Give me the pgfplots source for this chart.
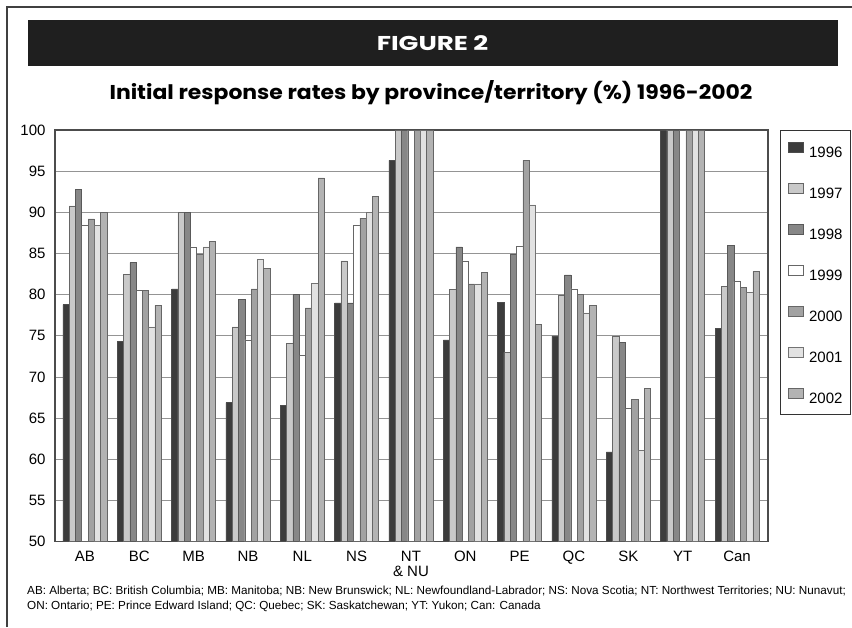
\documentclass[border=0pt]{standalone}
\usepackage{fontspec}
\setmainfont{Liberation Sans}
\newfontfamily\futura{Poppins}
\usepackage{graphicx}
\usepackage{pgfplots}
\usepackage{pgfplotstable}
\pgfplotsset{compat=1.18}
\definecolor{cA}{HTML}{3C3C3C}
\definecolor{cB}{HTML}{C9C9C9}
\definecolor{cC}{HTML}{878787}
\definecolor{cD}{HTML}{FFFFFF}
\definecolor{cE}{HTML}{A2A2A2}
\definecolor{cF}{HTML}{E2E2E2}
\definecolor{cG}{HTML}{B3B3B3}
\pgfplotstableread{
x y96 y97 y98 y99 y00 y01 y02
0 78.8 90.8 92.8 88.4 89.2 88.4 90.0
1 74.3 82.5 83.9 80.5 80.5 76.1 78.7
2 80.7 90.0 90.0 85.8 84.9 85.8 86.5
3 66.9 76.1 79.4 74.5 80.7 84.3 83.2
4 66.6 74.1 80.0 72.6 78.4 81.4 94.2
5 79.0 84.1 79.0 88.4 89.3 90.0 91.9
6 96.3 100 100 100 100 100 100
7 74.5 80.6 85.8 84.1 81.3 81.3 82.7
8 79.1 73.0 84.9 85.9 96.3 90.9 76.4
9 75.0 79.9 82.4 80.7 80.0 77.8 78.7
10 60.9 75.0 74.2 66.2 67.3 61.1 68.6
11 100 100 100 100 100 100 100
12 75.9 81.0 86.0 81.6 80.9 80.3 82.8
}\data
\begin{document}
\begin{tikzpicture}
\useasboundingbox (0,0) rectangle (852pt,-627pt);
\fill[white] (0,0) rectangle (852pt,-627pt);
\draw[line width=1.2pt, black!75] (7pt,-627pt) -- (7pt,-7pt) -- (852pt,-7pt);
\fill[black!88] (28pt,-20pt) rectangle (838pt,-66pt);
\node[text=white, font=\futura\bfseries\fontsize{20}{22}\selectfont] at (432.5pt,-43pt) {\scalebox{1.3}[1]{FIGURE 2}};
\node[font=\futura\bfseries\fontsize{20}{22}\selectfont] at (431pt,-93pt) {\scalebox{1.095}[1]{Initial response rates by province/territory (\%) 1996-2002}};
\begin{axis}[
  at={(55pt,-541.7pt)}, anchor=south west,
  scale only axis, width=713pt, height=411.7pt,
  ybar=0pt, bar width=0.1158,
  xmin=-0.55, xmax=12.57, ymin=50, ymax=100,
  ytick={50,55,...,100},
  xtick={0,...,12},
  xticklabels={AB,BC,MB,NB,NL,NS,{NT\\\& NU},ON,PE,QC,SK,YT,Can},
  /pgf/number format/assume math mode=true,
  xticklabel style={align=center, font=\fontsize{15}{15}\selectfont, yshift=-6pt},
  yticklabel style={font=\fontsize{15}{15}\selectfont, xshift=-6pt},
  major tick length=0pt,
  ymajorgrids,
  grid style={black!42, line width=0.8pt},
  axis line style={black!70, line width=1.3pt},
  legend style={at={(1.0168,1.0)}, anchor=north west, draw=black!80, line width=1pt,
    inner xsep=8pt, inner ysep=11pt, row sep=25.5pt,
    nodes={inner sep=0pt, text height=10.5pt, text depth=0pt, font=\fontsize{15}{15}\selectfont},
    /tikz/every odd column/.append style={column sep=5pt}},
  legend cell align=left,
  legend image code/.code={\draw[#1, line width=0.6pt] (0pt,0pt) rectangle (15pt,10pt);},
]
\addplot[fill=cA, draw=black!70, line width=0.5pt] table[x=x,y=y96]{\data};
\addplot[fill=cB, draw=black!60, line width=0.5pt] table[x=x,y=y97]{\data};
\addplot[fill=cC, draw=black!65, line width=0.5pt] table[x=x,y=y98]{\data};
\addplot[fill=cD, draw=black!60, line width=0.5pt] table[x=x,y=y99]{\data};
\addplot[fill=cE, draw=black!60, line width=0.5pt] table[x=x,y=y00]{\data};
\addplot[fill=cF, draw=black!55, line width=0.5pt] table[x=x,y=y01]{\data};
\addplot[fill=cG, draw=black!60, line width=0.5pt] table[x=x,y=y02]{\data};
\legend{1996,1997,1998,1999,2000,2001,2002}
\end{axis}
\node[anchor=west, inner sep=0pt, font=\fontsize{11.7}{15}\selectfont, align=left] at (27pt,-598.5pt) {AB: Alberta; BC: British Columbia; MB: Manitoba; NB: New Brunswick; NL: Newfoundland-Labrador; NS: Nova Scotia; NT: Northwest Territories; NU: Nunavut;\\ON: Ontario; PE: Prince Edward Island; QC: Quebec; SK: Saskatchewan; YT: Yukon; Can: Canada};
\end{tikzpicture}
\end{document}
